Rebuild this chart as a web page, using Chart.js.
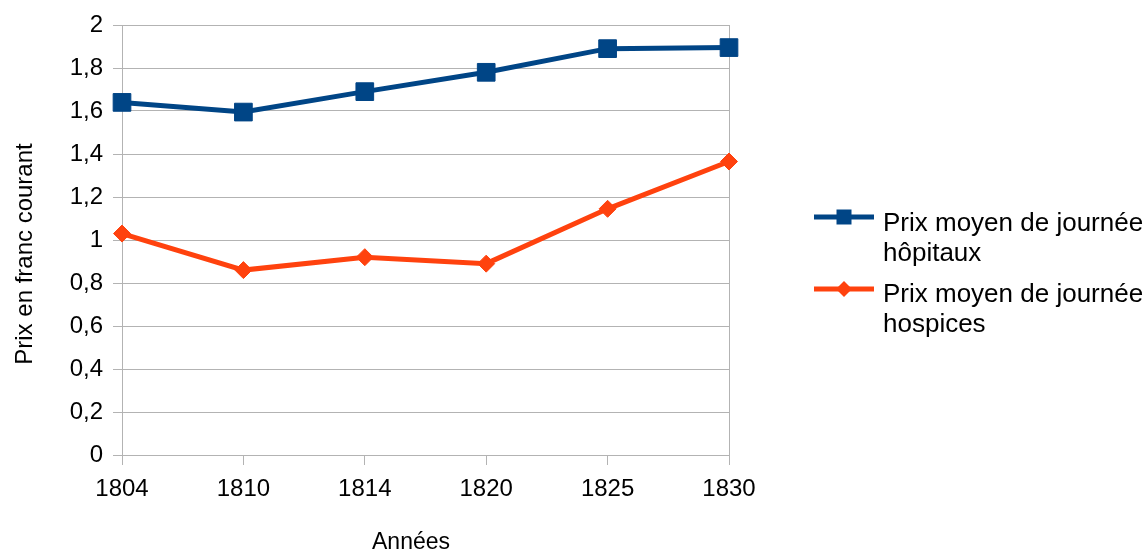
<!DOCTYPE html>
<html>
<head>
<meta charset="utf-8">
<script src="https://cdn.jsdelivr.net/npm/chart.js@4/dist/chart.umd.min.js"></script>
<style>
  html, body { margin: 0; padding: 0; background: #ffffff; }
  #wrap { width: 1146px; height: 551px; position: relative; }
</style>
</head>
<body>
<div id="wrap"><canvas id="c" width="1146" height="551"></canvas></div>
<script>
// ---- Data ----
const years = ['1804', '1810', '1814', '1820', '1825', '1830'];
const hopitaux = [1.64, 1.595, 1.69, 1.78, 1.89, 1.895];
const hospices = [1.03, 0.86, 0.92, 0.89, 1.145, 1.365];
const seriesNames = ['Prix moyen de journée hôpitaux', 'Prix moyen de journée hospices'];
const legendLines = [['Prix moyen de journée', 'hôpitaux'], ['Prix moyen de journée', 'hospices']];
const yTickLabels = ['0', '0,2', '0,4', '0,6', '0,8', '1', '1,2', '1,4', '1,6', '1,8', '2'];
const xTitle = 'Années';
const yTitle = 'Prix en franc courant';

const BLUE = '#004586';
const ORANGE = '#ff420e';
const GRID = '#b3b3b3';
const FONT = '"Liberation Sans", Arial, sans-serif';

const decorPlugin = {
  id: 'decor',
  afterDraw(chart) {
    const ctx = chart.ctx;
    const ds = chart.data.datasets;
    const entries = [
      { lineY: 217, baseY: 231 },
      { lineY: 289, baseY: 302 }
    ];
    ctx.save();
    // legend
    ds.forEach((d, i) => {
      const e = entries[i];
      ctx.strokeStyle = d.borderColor;
      ctx.lineWidth = 5;
      ctx.beginPath();
      ctx.moveTo(814, e.lineY);
      ctx.lineTo(874, e.lineY);
      ctx.stroke();
      ctx.fillStyle = d.borderColor;
      ctx.beginPath();
      if (d.pointStyle === 'rect') {
        ctx.rect(844 - 7.5, e.lineY - 7.5, 15, 15);
      } else {
        ctx.moveTo(844, e.lineY - 8);
        ctx.lineTo(852, e.lineY);
        ctx.lineTo(844, e.lineY + 8);
        ctx.lineTo(836, e.lineY);
        ctx.closePath();
      }
      ctx.fill();
      ctx.fillStyle = '#000000';
      ctx.font = '26px ' + FONT;
      ctx.textAlign = 'left';
      ctx.textBaseline = 'alphabetic';
      legendLines[i].forEach((t, j) => {
        ctx.fillText(t, 883, e.baseY + j * 30);
      });
    });
    // axis titles
    ctx.fillStyle = '#000000';
    ctx.textAlign = 'center';
    ctx.textBaseline = 'alphabetic';
    ctx.font = '23px ' + FONT;
    ctx.fillText(xTitle, 411, 549);
    ctx.translate(32, 254);
    ctx.rotate(-Math.PI / 2);
    ctx.font = '24px ' + FONT;
    ctx.fillText(yTitle, 0, 0);
    ctx.restore();
  }
};

new Chart(document.getElementById('c'), {
  type: 'line',
  data: {
    labels: years,
    datasets: [
      {
        label: seriesNames[0],
        data: hopitaux,
        borderColor: BLUE,
        backgroundColor: BLUE,
        pointBackgroundColor: BLUE,
        pointBorderColor: BLUE,
        borderWidth: 5,
        pointStyle: 'rect',
        pointRadius: 12.5,
        pointBorderWidth: 1,
        tension: 0
      },
      {
        label: seriesNames[1],
        data: hospices,
        borderColor: ORANGE,
        backgroundColor: ORANGE,
        pointBackgroundColor: ORANGE,
        pointBorderColor: ORANGE,
        borderWidth: 5,
        pointStyle: 'rectRot',
        pointRadius: 8.5,
        pointBorderWidth: 1,
        tension: 0
      }
    ]
  },
  options: {
    responsive: false,
    animation: false,
    devicePixelRatio: 1,
    layout: { padding: { top: 25, right: 417, bottom: 0, left: 0 } },
    plugins: {
      legend: { display: false },
      tooltip: { enabled: false },
      title: { display: false }
    },
    scales: {
      x: {
        offset: false,
        grid: {
          display: true,
          drawOnChartArea: false,
          drawTicks: true,
          tickLength: 10,
          color: GRID,
          lineWidth: 1
        },
        border: { display: true, color: GRID, width: 1 },
        ticks: {
          color: '#000000',
          font: { family: FONT, size: 24 },
          padding: 10,
          maxRotation: 0,
          autoSkip: false
        },
        title: { display: false },
        afterFit(scale) { scale.height = 96; }
      },
      y: {
        min: 0,
        max: 2,
        grid: {
          color: GRID,
          lineWidth: 1,
          drawTicks: true,
          tickLength: 9
        },
        border: { display: true, color: GRID, width: 1 },
        ticks: {
          stepSize: 0.2,
          color: '#000000',
          font: { family: FONT, size: 24 },
          padding: 10,
          callback: (v, i) => yTickLabels[i]
        },
        title: { display: false },
        afterFit(scale) { scale.width = 122; }
      },
      y2: {
        position: 'right',
        min: 0,
        max: 2,
        grid: { display: true, drawOnChartArea: false, drawTicks: false },
        border: { display: true, color: GRID, width: 1 },
        ticks: { display: false },
        afterFit(scale) { scale.width = 0; }
      }
    }
  },
  plugins: [decorPlugin]
});
</script>
</body>
</html>
